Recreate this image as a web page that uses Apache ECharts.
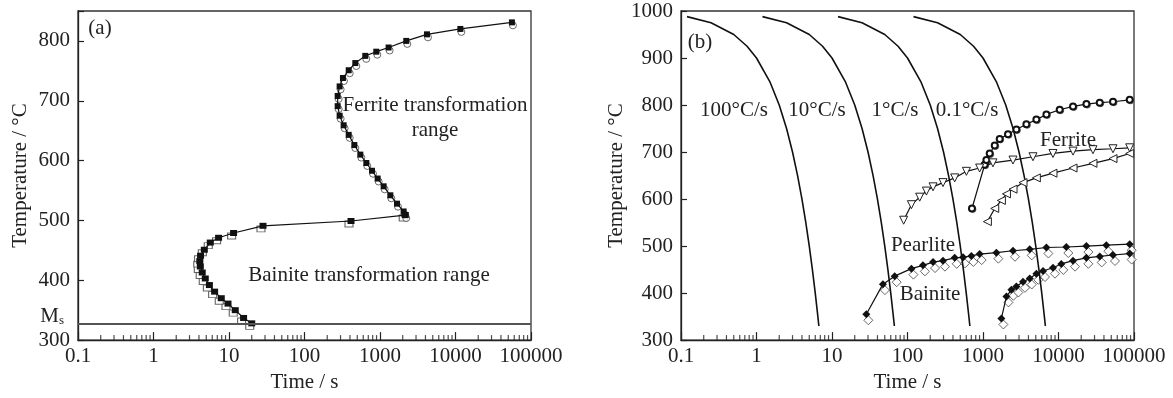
<!DOCTYPE html>
<html><head><meta charset="utf-8">
<script src="https://cdn.jsdelivr.net/npm/echarts@6/dist/echarts.min.js"></script>
<style>html,body{margin:0;background:#fff}#c{width:1173px;height:398px}</style>
</head><body><div id="c"></div>
<script>
// ---------- DATA ----------
// Panel (a): bainite branch (time s, temperature °C)
const A_BAINITE_T = [20, 15.6, 12.1, 9.7, 7.9, 6.45, 5.5, 4.85, 4.42, 4.17, 4.1, 4.2, 4.71, 5.65, 7.28, 11.5, 28.2, 413, 2160];
const A_BAINITE_V = [328, 337, 350, 361, 370, 381, 392, 403, 413, 423, 432, 441, 451, 463, 471, 479, 491, 499, 509];
// Panel (a): ferrite branch
const A_FERRITE_T = [2160, 2056, 1679, 1370, 1118, 931, 784, 659, 549, 457, 385, 330, 292, 275, 275, 292, 323, 385, 471, 638, 893, 1300, 2228, 4188, 11600, 55900];
const A_FERRITE_V = [509, 515, 528, 542, 557, 570, 583, 596, 610, 626, 643, 659, 675, 691, 708, 724, 738, 751, 763, 775, 782, 789, 800, 811, 820, 831];
const MS_TEMP = 327;

// Panel (b): cooling curves
const COOL_V = [988, 975, 950, 925, 900, 850, 800, 750, 700, 650, 600, 550, 500, 450, 400, 350, 330];
const COOL_100_T = [0.12, 0.25, 0.50, 0.75, 1.0, 1.5, 2.0, 2.5, 3.0, 3.5, 4.0, 4.5, 5.0, 5.5, 6.0, 6.5, 6.7];
const COOL_10_T = [1.2, 2.5, 5.0, 7.5, 10, 15, 20, 25, 30, 35, 40, 45, 50, 55, 60, 65, 67];
const COOL_1_T = [12, 25, 50, 75, 100, 150, 200, 250, 300, 350, 400, 450, 500, 550, 600, 650, 670];
const COOL_01_T = [120, 250, 500, 750, 1000, 1500, 2000, 2500, 3000, 3500, 4000, 4500, 5000, 5500, 6000, 6500, 6700];
const COOL_LABELS = ['100°C/s', '10°C/s', '1°C/s', '0.1°C/s'];

// Panel (b): transformation curves
const B_FERRITE_T = [714, 1052, 1109, 1227, 1430, 1664, 2143, 2768, 3755, 5093, 6915, 10370, 15570, 23420, 35160, 52720, 87700];
const B_FERRITE_V = [580, 673, 683, 697, 714, 728, 738, 748, 759, 769, 780, 790, 797, 802, 805, 807, 811];
const B_PEARL1_T = [88.9, 112.7, 145, 178, 218, 295, 422, 603, 903, 1355, 2495, 4590, 8450, 15570, 28600, 52700, 87700];
const B_PEARL1_V = [555, 588, 604, 617, 626, 635, 645, 659, 666, 677, 683, 690, 697, 702, 705, 707, 709];
const B_PEARL2_T = [1143, 1430, 1753, 2044, 2500, 3390, 5090, 8450, 15570, 28600, 52700, 87700];
const B_PEARL2_V = [552, 580, 597, 611, 621, 635, 645, 655, 666, 676, 686, 697];
const B_BAIN1_T = [28.5, 47.3, 67.6, 112.7, 160, 218, 295, 422, 544, 701, 903, 1503, 2495, 4160, 6915, 12700, 23420, 43000, 87700];
const B_BAIN1_V = [355, 419, 436, 452, 459, 466, 469, 475, 476, 479, 483, 486, 490, 493, 497, 498, 500, 502, 504];
const B_BAIN2_T = [1753, 2044, 2377, 2768, 3390, 4160, 5090, 6240, 8450, 10900, 15570, 23420, 35160, 52700, 87700];
const B_BAIN2_V = [346, 393, 407, 414, 424, 431, 441, 447, 454, 462, 469, 475, 478, 481, 484];

// minor tick positions (2..9 within each decade)
const DECADES = [0.1, 1, 10, 100, 1000, 10000];
const MINOR_TICKS = [];
DECADES.forEach(d => { for (let k = 2; k <= 9; k++) MINOR_TICKS.push(+(d * k).toPrecision(6)); });

// ---------- CHART ----------
const F = 'Liberation Serif';
const FS = 21;
const C = '#222';
const zip = (a, b) => a.map((v, i) => [v, b[i]]);
const fmt = v => String(Number(Number(v).toPrecision(6)));

function xAx(gi) {
  return {
    type: 'log', gridIndex: gi, logBase: 10, min: 0.1, max: 100000, splitNumber: 6,
    name: 'Time / s', nameLocation: 'middle', nameGap: 28,
    nameTextStyle: { fontFamily: F, fontSize: FS, color: C },
    axisLine: { lineStyle: { color: '#222', width: 1.3 } },
    axisTick: { inside: true, length: 8, lineStyle: { color: '#222', width: 1.2 } },
    axisLabel: { fontFamily: F, fontSize: FS, color: C, margin: 6, formatter: fmt },
    splitLine: { show: false }, minorTick: { show: false }
  };
}
function yAx(gi, max, gap) {
  return {
    type: 'value', gridIndex: gi, min: 300, max: max, interval: 100,
    name: 'Temperature / °C', nameLocation: 'middle', nameGap: gap,
    nameTextStyle: { fontFamily: F, fontSize: FS, color: C },
    axisLine: { lineStyle: { color: '#222', width: 1.3 } },
    axisTick: { inside: true, length: 6, lineStyle: { color: '#222', width: 1.2 } },
    axisLabel: { fontFamily: F, fontSize: FS, color: C, margin: 8,
      formatter: v => (v % 100 === 0 ? String(v) : '') },
    splitLine: { show: false }
  };
}
function minorTicks(gi) {
  return {
    type: 'scatter', xAxisIndex: gi, yAxisIndex: gi, silent: true, clip: false, z: 6,
    data: MINOR_TICKS.map(v => [v, 300]),
    symbol: 'rect', symbolSize: [1.2, 5], symbolOffset: [0, -2.5],
    itemStyle: { color: '#222' }
  };
}
function curve(gi, t, v, opt) {
  return Object.assign({
    type: 'line', xAxisIndex: gi, yAxisIndex: gi, data: zip(t, v), silent: true,
    lineStyle: { color: '#111', width: 1.2 }, z: 3
  }, opt);
}
function hollow(gi, t, v, symbol, size, offset, rot) {
  return {
    type: 'scatter', xAxisIndex: gi, yAxisIndex: gi, data: zip(t, v), silent: true, z: 2,
    symbol: symbol, symbolSize: size, symbolOffset: offset, symbolRotate: rot || 0,
    itemStyle: { color: '#fff', borderColor: '#444', borderWidth: 1 }
  };
}

const series = [
  // panel (a)
  hollow(0, A_BAINITE_T, A_BAINITE_V, 'rect', [8, 6], [-2, 3]),
  hollow(0, A_FERRITE_T, A_FERRITE_V, 'circle', 7, [1, 3]),
  curve(0, A_BAINITE_T, A_BAINITE_V, {
    symbol: 'rect', symbolSize: [7, 6], itemStyle: { color: '#111' },
    markLine: {
      silent: true, symbol: 'none', data: [{ yAxis: MS_TEMP }],
      lineStyle: { color: '#555', width: 2, type: 'solid' },
      label: { show: true, position: 'start', distance: 14, formatter: '{m|M}{s|s}',
        padding: [0, 0, 14, 0],
        rich: { m: { fontFamily: F, fontSize: FS, color: C }, s: { fontFamily: F, fontSize: 13, color: C, verticalAlign: 'bottom', padding: [8, 0, 0, 0] } } }
    }
  }),
  curve(0, A_FERRITE_T, A_FERRITE_V, { symbol: 'rect', symbolSize: [6, 6], itemStyle: { color: '#111' } }),
  minorTicks(0),
  // panel (b) cooling curves
  curve(1, COOL_100_T, COOL_V, { symbol: 'none', lineStyle: { color: '#111', width: 1.6 } }),
  curve(1, COOL_10_T, COOL_V, { symbol: 'none', lineStyle: { color: '#111', width: 1.6 } }),
  curve(1, COOL_1_T, COOL_V, { symbol: 'none', lineStyle: { color: '#111', width: 1.6 } }),
  curve(1, COOL_01_T, COOL_V, { symbol: 'none', lineStyle: { color: '#111', width: 1.6 } }),
  // transformation curves
  hollow(1, B_FERRITE_T, B_FERRITE_V, 'circle', 6, [1, 1]),
  curve(1, B_FERRITE_T, B_FERRITE_V, { symbol: 'emptyCircle', symbolSize: 6, itemStyle: { color: '#111', borderWidth: 1.1 } }),
  curve(1, B_PEARL1_T, B_PEARL1_V, { symbol: 'triangle', symbolRotate: 180, symbolSize: 8, itemStyle: { color: '#fff', borderColor: '#222', borderWidth: 1 } }),
  curve(1, B_PEARL2_T, B_PEARL2_V, { symbol: 'triangle', symbolRotate: 90, symbolSize: 8, itemStyle: { color: '#fff', borderColor: '#222', borderWidth: 1 } }),
  hollow(1, B_BAIN1_T, B_BAIN1_V, 'diamond', [9, 9], [2, 6]),
  hollow(1, B_BAIN2_T, B_BAIN2_V, 'diamond', [9, 9], [2, 6]),
  curve(1, B_BAIN1_T, B_BAIN1_V, { symbol: 'diamond', symbolSize: 8, itemStyle: { color: '#111' } }),
  curve(1, B_BAIN2_T, B_BAIN2_V, { symbol: 'diamond', symbolSize: 8, itemStyle: { color: '#111' } }),
  minorTicks(1)
];

const txt = (x, y, s, align) => ({
  type: 'text', x: x, y: y, silent: true, z: 50,
  style: { text: s, fontFamily: F, fontSize: FS, fill: C, align: align || 'center', verticalAlign: 'middle' }
});

const option = {
  animation: false,
  backgroundColor: '#fff',
  grid: [
    { left: 78, top: 11, width: 453, height: 337, show: true, borderColor: '#333', borderWidth: 1.3, backgroundColor: 'transparent' },
    { left: 681, top: 11, width: 453, height: 337, show: true, borderColor: '#333', borderWidth: 1.3, backgroundColor: 'transparent' }
  ],
  xAxis: [xAx(0), xAx(1)],
  yAxis: [yAx(0, 850, 47), yAx(1, 1000, 50)],
  series: series,
  graphic: [
    txt(100, 28, '(a)'),
    txt(435, 105, 'Ferrite transformation'),
    txt(435, 130, 'range'),
    txt(369, 275, 'Bainite transformation range'),
    txt(700, 42, '(b)'),
    txt(734, 110, COOL_LABELS[0]),
    txt(817, 110, COOL_LABELS[1]),
    txt(895, 110, COOL_LABELS[2]),
    txt(967, 110, COOL_LABELS[3]),
    txt(1068, 140, 'Ferrite'),
    txt(923, 245, 'Pearlite'),
    txt(930, 294, 'Bainite')
  ]
};
const chart = echarts.init(document.getElementById('c'), null, { renderer: 'canvas' });
chart.setOption(option);
</script></body></html>
